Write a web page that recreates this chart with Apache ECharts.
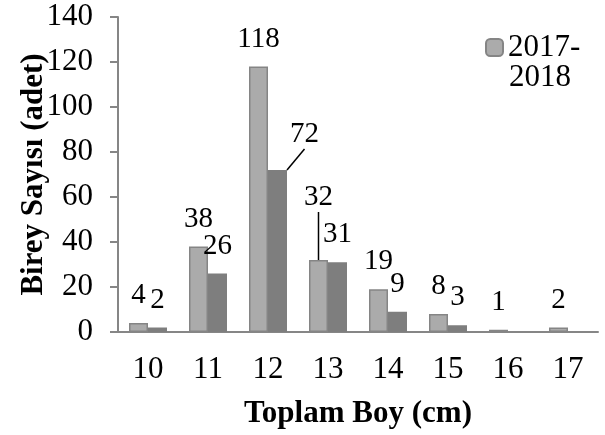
<!DOCTYPE html>
<html>
<head>
<meta charset="utf-8">
<script src="https://cdn.jsdelivr.net/npm/echarts@6/dist/echarts.min.js"></script>
<style>
html,body{margin:0;padding:0;background:#fff;}
#c{width:605px;height:435px;}
</style>
</head>
<body>
<div id="c"></div>
<script>
var categories = ['10','11','12','13','14','15','16','17'];
var series1Name = '2017-2018';
var series1 = [4, 38, 118, 32, 19, 8, 1, 2];
var series2Name = '2018-2019';
var series2 = [2, 26, 72, 31, 9, 3, null, null];
var yTicks = { min: 0, max: 140, interval: 20 };
var xTitle = 'Toplam Boy (cm)';
var yTitle = 'Birey Sayısı (adet)';
var legendLine1 = '2017-';
var legendLine2 = '2018';

var FONT = '"Liberation Serif", "Times New Roman", serif';
var chart = echarts.init(document.getElementById('c'));

var lbl = { show: true, position: 'top', distance: 13, color: '#000', fontFamily: FONT, fontSize: 29 };
var guide = { show: true, lineStyle: { color: '#000', width: 1.5 } };

function withGuide(arr, idx) {
  return arr.map(function (v, i) {
    return i === idx ? { value: v, labelLine: guide } : v;
  });
}

chart.setOption({
  animation: false,
  backgroundColor: '#fff',
  grid: { left: 118, right: 7, top: 17, bottom: 103, containLabel: false, outerBoundsMode: 'none' },
  legend: {
    data: [series1Name],
    left: 485, top: 32, padding: 0,
    itemWidth: 17, itemHeight: 17,
    formatter: function () { return legendLine1; },
    textStyle: { fontFamily: FONT, fontSize: 31, color: '#000' }
  },
  graphic: [{
    type: 'text', left: 509, top: 62,
    style: { text: legendLine2, fontFamily: FONT, fontSize: 31, fill: '#000' }
  }],
  xAxis: {
    type: 'category',
    data: categories,
    name: xTitle,
    nameLocation: 'middle',
    nameGap: 66,
    nameMoveOverlap: false,
    nameTextStyle: { fontFamily: FONT, fontSize: 31, fontWeight: 'bold', color: '#000' },
    axisLine: { lineStyle: { color: '#868686', width: 2 } },
    axisTick: { show: false },
    axisLabel: { fontFamily: FONT, fontSize: 31, color: '#000', margin: 22 }
  },
  yAxis: {
    type: 'value',
    min: yTicks.min, max: yTicks.max, interval: yTicks.interval,
    name: yTitle,
    nameLocation: 'middle',
    nameGap: 69,
    nameMoveOverlap: false,
    nameTextStyle: { fontFamily: FONT, fontSize: 31, fontWeight: 'bold', color: '#000' },
    axisLine: { show: true, lineStyle: { color: '#868686', width: 2 } },
    axisTick: { show: true, length: 8, lineStyle: { color: '#868686', width: 2 } },
    splitLine: { show: false },
    axisLabel: { fontFamily: FONT, fontSize: 31, color: '#000', margin: 25 }
  },
  series: [{
    name: series1Name,
    type: 'bar',
    data: withGuide(series1, 3),
    barWidth: 19,
    barGap: '0%',
    itemStyle: { color: '#ababab', borderColor: '#858585', borderWidth: 1.5 },
    label: lbl,
    labelLine: { show: false },
    labelLayout: function (p) {
      if (p.dataIndex === 3) { return { dy: -35 }; }
      return {};
    }
  }, {
    name: series2Name,
    type: 'bar',
    data: withGuide(series2, 2),
    barWidth: 19,
    barGap: '0%',
    itemStyle: { color: '#7e7e7e' },
    label: lbl,
    labelLine: { show: false },
    labelLayout: function (p) {
      if (p.dataIndex === 2) { return { dx: 27, dy: -8 }; }
      return {};
    }
  }]
});
</script>
</body>
</html>
